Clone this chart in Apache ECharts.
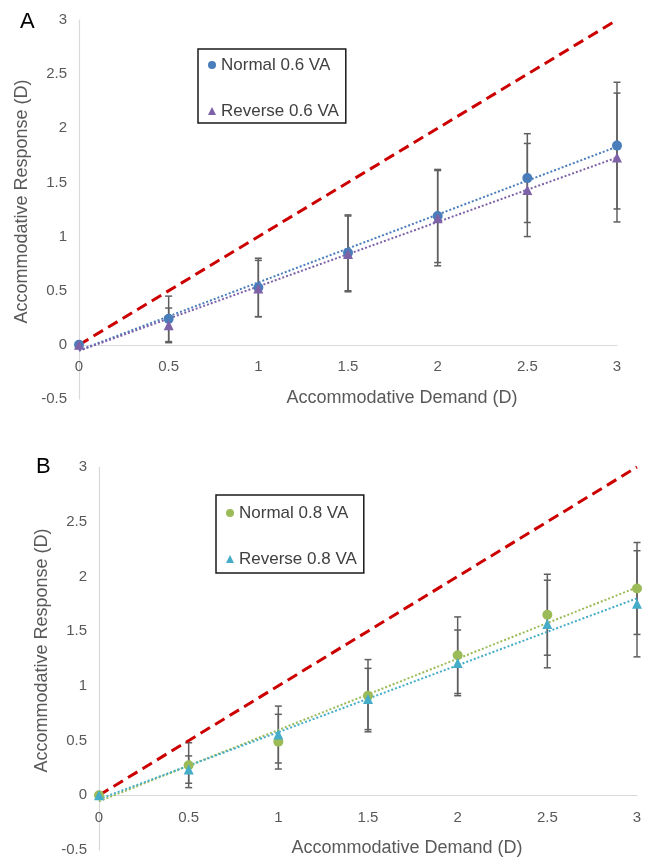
<!DOCTYPE html>
<html>
<head>
<meta charset="utf-8">
<script src="https://cdn.jsdelivr.net/npm/echarts@6/dist/echarts.min.js"></script>
<style>html,body{margin:0;padding:0;background:#fff}#c{width:649px;height:858px}</style>
</head>
<body>
<div id="c"></div>
<script>
// ---- data ----
const demand = [0, 0.5, 1, 1.5, 2, 2.5, 3];
const xTicks = ['0', '0.5', '1', '1.5', '2', '2.5', '3'];
const yTicks = ['-0.5', '0', '0.5', '1', '1.5', '2', '2.5', '3'];

const normal06 = [0, 0.24, 0.53, 0.85, 1.19, 1.54, 1.84];
const normal06Err = [0, 0.21, 0.27, 0.35, 0.43, 0.41, 0.585];
const reverse06 = [0, 0.18, 0.52, 0.84, 1.17, 1.43, 1.73];
const reverse06Err = [0, 0.16, 0.26, 0.35, 0.44, 0.43, 0.595];

const normal08 = [0, 0.275, 0.49, 0.91, 1.28, 1.65, 1.89];
const normal08Err = [0, 0.205, 0.25, 0.33, 0.35, 0.37, 0.42];
const reverse08 = [0, 0.235, 0.555, 0.88, 1.21, 1.565, 1.75];
const reverse08Err = [0, 0.125, 0.26, 0.28, 0.30, 0.40, 0.485];

// trendline endpoints (x = 0 and x = 3)
const trendX = [0, 3];
const trendNormal06 = [-0.05, 1.83];
const trendReverse06 = [-0.055, 1.73];
const trendNormal08 = [-0.055, 1.90];
const trendReverse08 = [-0.035, 1.80];

// one-to-one line
const identityX = [0, 3];
const identityY = [0, 3];

// ---- helpers ----
const FONT = 'Liberation Sans, Arial, sans-serif';
const C = {
  blue: '#4A7EBB', purple: '#7E62A8', green: '#9BBB59', cyan: '#45ADC8',
  red: '#CC0000', err: '#5F5F5F', axis: '#D9D9D9', label: '#595959'
};
const pairs = (xs, ys) => xs.map((x, i) => [x, ys[i]]);
const triples = (xs, ys, es) => xs.map((x, i) => [x, ys[i], es[i]]);

const GRIDS = [
  { left: 79, top: 20, width: 538, height: 379 },
  { left: 99, top: 467, width: 538, height: 383 }
];
const Y_MIN = -0.5, Y_MAX = 3;
// distance from grid bottom up to the y = 0 line
const zeroOffset = g => -g.height * (0 - Y_MIN) / (Y_MAX - Y_MIN);

function errSeries(name, data, idx) {
  return {
    name: name, type: 'custom', xAxisIndex: idx, yAxisIndex: idx, z: 2,
    silent: true,
    data: data,
    renderItem: function (params, api) {
      const x = api.value(0), y = api.value(1), e = api.value(2);
      if (!e) return null;
      const t = api.coord([x, y + e]);
      const b = api.coord([x, y - e]);
      const w = 3.5;
      const st = { stroke: C.err, lineWidth: 1.5 };
      return {
        type: 'group',
        children: [
          { type: 'line', shape: { x1: t[0], y1: t[1], x2: b[0], y2: b[1] }, style: st },
          { type: 'line', shape: { x1: t[0] - w, y1: t[1], x2: t[0] + w, y2: t[1] }, style: st },
          { type: 'line', shape: { x1: b[0] - w, y1: b[1], x2: b[0] + w, y2: b[1] }, style: st }
        ]
      };
    }
  };
}
function trendSeries(name, ys, color, idx) {
  return {
    name: name, type: 'line', xAxisIndex: idx, yAxisIndex: idx, z: 3,
    data: pairs(trendX, ys), symbol: 'none', silent: true,
    lineStyle: { color: color, width: 2, type: [2, 2] }
  };
}
function identitySeries(name, idx) {
  return {
    name: name, type: 'line', xAxisIndex: idx, yAxisIndex: idx, z: 3,
    data: pairs(identityX, identityY), symbol: 'none', silent: true,
    lineStyle: { color: C.red, width: 3, type: [11, 6] }
  };
}
function scatterSeries(name, ys, symbol, size, color, idx) {
  return {
    name: name, type: 'scatter', xAxisIndex: idx, yAxisIndex: idx, z: 5,
    data: pairs(demand, ys), symbol: symbol, symbolSize: size,
    itemStyle: { color: color, opacity: 1 }
  };
}
function xAxisCfg(idx, shift) {
  return {
    type: 'value', gridIndex: idx, min: 0, max: 3, interval: 0.5,
    offset: zeroOffset(GRIDS[idx]),
    axisLine: { onZero: false, lineStyle: { color: C.axis, width: 1.2 } },
    axisTick: { show: false }, splitLine: { show: false },
    axisLabel: { color: C.label, fontSize: 15, fontFamily: FONT, margin: 15,
      formatter: v => xTicks[Math.round(v / 0.5)] },
    name: 'Accommodative Demand (D)', nameLocation: 'middle', nameGap: 44,
    nameMoveOverlap: false,
    nameTextStyle: { color: C.label, fontSize: 18, fontFamily: FONT, padding: [0, 0, 0, shift] }
  };
}
function yAxisCfg(idx) {
  return {
    type: 'value', gridIndex: idx, min: Y_MIN, max: Y_MAX, interval: 0.5,
    axisLine: { show: true, onZero: false, lineStyle: { color: C.axis, width: 1.2 } },
    axisTick: { show: false }, splitLine: { show: false },
    axisLabel: { color: C.label, fontSize: 15, fontFamily: FONT, margin: 12,
      formatter: v => yTicks[Math.round((v + 0.5) / 0.5)] },
    name: 'Accommodative Response (D)', nameLocation: 'middle', nameGap: 48,
    nameMoveOverlap: false,
    nameTextStyle: { color: C.label, fontSize: 18, fontFamily: FONT, padding: [0, 0, 0, 16] }
  };
}
function legendCfg(names, icons, left, top, pad) {
  return {
    orient: 'vertical', left: left, top: top,
    data: names.map((n, i) => ({ name: n, icon: icons[i] })),
    itemWidth: 8, itemHeight: 8, itemGap: 28,
    padding: pad,
    itemStyle: { borderWidth: 0 },
    borderColor: '#1A1A1A', borderWidth: 1.5, backgroundColor: '#fff',
    textStyle: { color: '#404040', fontSize: 17, fontFamily: FONT, lineHeight: 18 },
    selectedMode: false
  };
}

const chart = echarts.init(document.getElementById('c'), null, { renderer: 'canvas' });
chart.setOption({
  animation: false,
  backgroundColor: '#fff',
  grid: GRIDS.map(g => Object.assign({ containLabel: false, outerBoundsMode: 'none' }, g)),
  xAxis: [xAxisCfg(0, 108), xAxisCfg(1, 78)],
  yAxis: [yAxisCfg(0), yAxisCfg(1)],
  legend: [
    legendCfg(['Normal 0.6 VA', 'Reverse 0.6 VA'], ['circle', 'triangle'], 198, 49, [7, 7, 3, 10]),
    legendCfg(['Normal 0.8 VA', 'Reverse 0.8 VA'], ['circle', 'triangle'], 216, 495, [9, 7, 5, 10])
  ],
  graphic: [
    { type: 'text', left: 20, top: 11, style: { text: 'A', font: '22px ' + FONT, fill: '#000' } },
    { type: 'text', left: 36, top: 456, style: { text: 'B', font: '22px ' + FONT, fill: '#000' } }
  ],
  series: [
    errSeries('err n06', triples(demand, normal06, normal06Err), 0),
    errSeries('err r06', triples(demand, reverse06, reverse06Err), 0),
    trendSeries('trend n06', trendNormal06, C.blue, 0),
    trendSeries('trend r06', trendReverse06, C.purple, 0),
    identitySeries('identity A', 0),
    scatterSeries('Normal 0.6 VA', normal06, 'circle', 10, C.blue, 0),
    scatterSeries('Reverse 0.6 VA', reverse06, 'triangle', 10, C.purple, 0),

    errSeries('err n08', triples(demand, normal08, normal08Err), 1),
    errSeries('err r08', triples(demand, reverse08, reverse08Err), 1),
    trendSeries('trend n08', trendNormal08, C.green, 1),
    trendSeries('trend r08', trendReverse08, C.cyan, 1),
    identitySeries('identity B', 1),
    scatterSeries('Normal 0.8 VA', normal08, 'circle', 10, C.green, 1),
    scatterSeries('Reverse 0.8 VA', reverse08, 'triangle', 10, C.cyan, 1)
  ]
});
</script>
</body>
</html>
